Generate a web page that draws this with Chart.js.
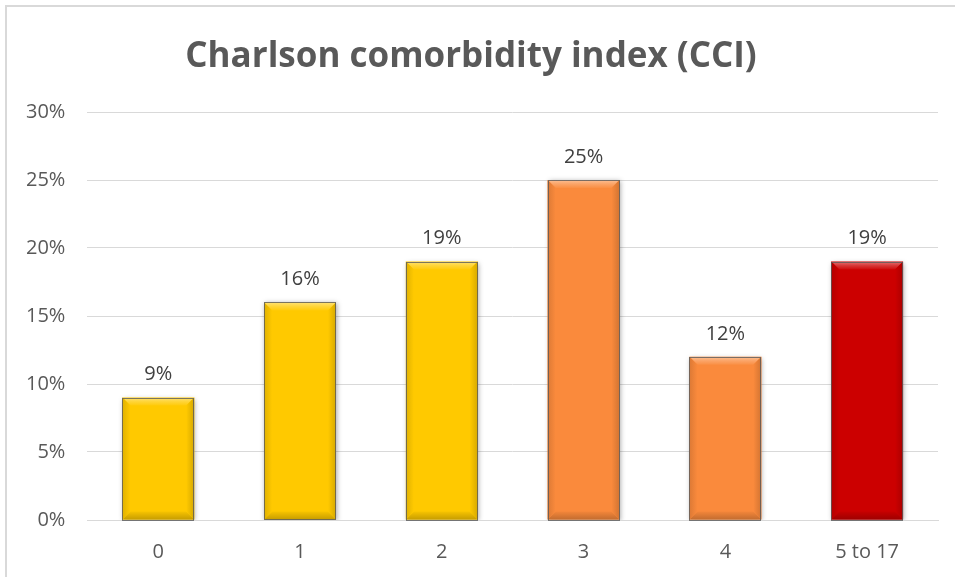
<!DOCTYPE html>
<html>
<head>
<meta charset="utf-8">
<script src="https://cdn.jsdelivr.net/npm/chart.js@4/dist/chart.umd.min.js"></script>
<style>
  html, body { margin: 0; padding: 0; background: #ffffff; }
  #wrap { position: relative; width: 955px; height: 577px; overflow: hidden; }
  #frame { position: absolute; left: 5px; top: 5px; width: 960px; height: 600px;
           border-left: 2px solid #d9d9d9; border-top: 2px solid #d9d9d9; box-sizing: border-box; }
  canvas { position: absolute; left: 0; top: 0; }
</style>
</head>
<body>
<div id="wrap">
  <div id="frame"></div>
  <canvas id="chart" width="955" height="584"></canvas>
</div>
<script>
// CCI score groups and share of patients in each group
const categories = ['0', '1', '2', '3', '4', '5 to 17'];
const shares = [0.09, 0.16, 0.19, 0.25, 0.12, 0.19];
const barColors = ['#FFC900', '#FFC900', '#FFC900', '#FA8A3C', '#FA8A3C', '#CC0000'];
const yTicks = [0, 0.05, 0.10, 0.15, 0.20, 0.25, 0.30];

const FONT = '"Open Sans", "Liberation Sans", sans-serif';
const TEXT = '#595959';

function pct(v) { return Math.round(v * 100) + '%'; }

function shade(hex, amt) {
  const n = parseInt(hex.slice(1), 16);
  let r = (n >> 16) & 255, g = (n >> 8) & 255, b = n & 255;
  if (amt >= 0) {
    r = Math.round(r + (255 - r) * amt); g = Math.round(g + (255 - g) * amt); b = Math.round(b + (255 - b) * amt);
  } else {
    r = Math.round(r * (1 + amt)); g = Math.round(g * (1 + amt)); b = Math.round(b * (1 + amt));
  }
  return `rgb(${r},${g},${b})`;
}

// Soft drop shadow under the bars
const shadowPlugin = {
  id: 'barShadow',
  beforeDatasetsDraw(chart) {
    const ctx = chart.ctx;
    ctx.save();
    ctx.shadowColor = 'rgba(0,0,0,0.35)';
    ctx.shadowBlur = 5;
    ctx.shadowOffsetX = 1;
    ctx.shadowOffsetY = 1;
  },
  afterDatasetsDraw(chart) {
    chart.ctx.restore();
  }
};

// Beveled edges, outline and value labels on each bar
const bevelPlugin = {
  id: 'bevel',
  afterDatasetsDraw(chart) {
    const ctx = chart.ctx;
    const meta = chart.getDatasetMeta(0);
    const data = chart.data.datasets[0].data;
    meta.data.forEach((bar, i) => {
      const { x, y, base, width } = bar.getProps(['x', 'y', 'base', 'width'], true);
      const l = x - width / 2, r = x + width / 2, t = y, b = base;
      const bv = 8;
      const c = barColors[i];
      ctx.save();
      // top bevel
      let g = ctx.createLinearGradient(0, t, 0, t + bv);
      g.addColorStop(0, shade(c, 0.45));
      g.addColorStop(0.5, shade(c, 0.22));
      g.addColorStop(1, shade(c, 0.04));
      ctx.fillStyle = g;
      ctx.beginPath();
      ctx.moveTo(l, t); ctx.lineTo(r, t); ctx.lineTo(r - bv, t + bv); ctx.lineTo(l + bv, t + bv); ctx.closePath();
      ctx.fill();
      // bottom bevel
      g = ctx.createLinearGradient(0, b - bv, 0, b);
      g.addColorStop(0, shade(c, -0.03));
      g.addColorStop(1, shade(c, -0.22));
      ctx.fillStyle = g;
      ctx.beginPath();
      ctx.moveTo(l, b); ctx.lineTo(r, b); ctx.lineTo(r - bv, b - bv); ctx.lineTo(l + bv, b - bv); ctx.closePath();
      ctx.fill();
      // left bevel
      g = ctx.createLinearGradient(l, 0, l + bv, 0);
      g.addColorStop(0, shade(c, -0.12));
      g.addColorStop(1, c);
      ctx.fillStyle = g;
      ctx.beginPath();
      ctx.moveTo(l, t); ctx.lineTo(l + bv, t + bv); ctx.lineTo(l + bv, b - bv); ctx.lineTo(l, b); ctx.closePath();
      ctx.fill();
      // right bevel
      g = ctx.createLinearGradient(r - bv, 0, r, 0);
      g.addColorStop(0, c);
      g.addColorStop(1, shade(c, -0.16));
      ctx.fillStyle = g;
      ctx.beginPath();
      ctx.moveTo(r, t); ctx.lineTo(r - bv, t + bv); ctx.lineTo(r - bv, b - bv); ctx.lineTo(r, b); ctx.closePath();
      ctx.fill();
      // outline
      ctx.strokeStyle = 'rgba(90,90,90,0.8)';
      ctx.lineWidth = 1;
      ctx.strokeRect(Math.round(l) + 0.5, Math.round(t) + 0.5, Math.round(r - l) - 1, Math.round(b - t));
      // value label
      ctx.fillStyle = '#404040';
      ctx.font = '20px ' + FONT;
      ctx.textAlign = 'center';
      ctx.textBaseline = 'middle';
      ctx.fillText(pct(data[i]), x, t - 23);
      ctx.restore();
    });
  }
};

new Chart(document.getElementById('chart'), {
  type: 'bar',
  data: {
    labels: categories,
    datasets: [{
      data: shares,
      backgroundColor: barColors,
      borderWidth: 0,
      categoryPercentage: 1.0,
      barPercentage: 0.507
    }]
  },
  options: {
    responsive: false,
    animation: false,
    devicePixelRatio: 1,
    layout: { padding: { left: 4, right: 17, top: 28, bottom: 0 } },
    plugins: {
      legend: { display: false },
      tooltip: { enabled: false },
      title: {
        display: true,
        text: 'Charlson comorbidity index (CCI)',
        color: TEXT,
        font: { family: FONT, size: 35, weight: 'bold' },
        padding: { top: 8, bottom: 34 }
      }
    },
    scales: {
      y: {
        min: 0,
        max: 0.30,
        afterBuildTicks(axis) { axis.ticks = yTicks.map(v => ({ value: v })); },
        ticks: {
          color: TEXT,
          font: { family: FONT, size: 20 },
          padding: 22,
          callback: v => pct(v)
        },
        grid: { color: '#d9d9d9', lineWidth: 1, drawTicks: false },
        border: { display: false }
      },
      x: {
        ticks: {
          color: TEXT,
          font: { family: FONT, size: 20 },
          padding: 20
        },
        grid: { display: false, drawTicks: false },
        border: { display: true, color: '#d9d9d9', width: 1 }
      }
    }
  },
  plugins: [shadowPlugin, bevelPlugin]
});
</script>
</body>
</html>
